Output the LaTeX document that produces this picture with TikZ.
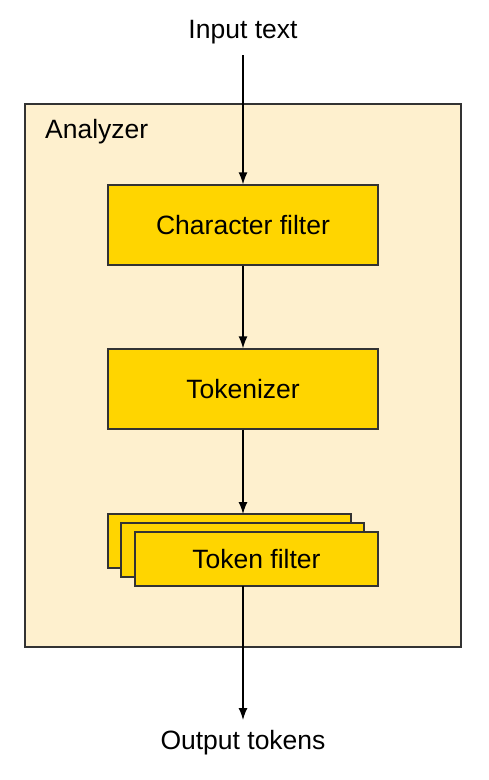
\documentclass[tikz,border=0pt]{standalone}
\usepackage{fontspec}
\setmainfont{Liberation Sans}
\usetikzlibrary{arrows.meta}
\definecolor{cream}{HTML}{FEF0CE}
\definecolor{gold}{HTML}{FFD500}
\definecolor{edge}{HTML}{333333}
\begin{document}
\begin{tikzpicture}[x=1pt,y=-1pt,
  txt/.style={font=\fontsize{26.5}{30}\selectfont, inner sep=0pt},
  stepbox/.style={draw=edge, line width=1.3pt, fill=gold, minimum width=270pt, minimum height=80pt, font=\fontsize{26.5}{30}\selectfont, inner sep=0pt},
  smallbox/.style={draw=edge, line width=1.3pt, fill=gold, minimum width=243pt, minimum height=54pt, font=\fontsize{26.5}{30}\selectfont, inner sep=0pt},
  conn/.style={draw=black, line width=1.3pt, -{Latex[length=12pt,width=9pt]}}]
\useasboundingbox (0,0) rectangle (488,780);
\fill[white] (0,0) rectangle (488,780);
\node[draw=edge, line width=1.3pt, fill=cream, minimum width=436pt, minimum height=543pt, inner sep=0pt] (analyzer) at (243,375.5) {};
\node[txt, anchor=west] (alabel) at (45,132) {Analyzer};
\node[txt] (input) at (243,32) {Input text};
\node[txt] (output) at (243,743) {Output tokens};
\node[stepbox] (cf) at (243,225) {Character filter};
\node[stepbox] (tok) at (243,389) {Tokenizer};
\node[smallbox] (tf1) at (229.5,541) {};
\node[smallbox] (tf2) at (242.5,550) {};
\node[smallbox] (tf3) at (256.5,559) {Token filter};
\coordinate (inTop) at (243,55);
\coordinate (outBot) at (243,720);
\coordinate (tfTop) at (243,514);
\coordinate (tfBot) at (243,586);
\draw[conn] (inTop) -- (cf.north);
\draw[conn] (cf.south) -- (tok.north);
\draw[conn] (tok.south) -- (tfTop);
\draw[conn] (tfBot) -- (outBot);
\end{tikzpicture}
\end{document}
